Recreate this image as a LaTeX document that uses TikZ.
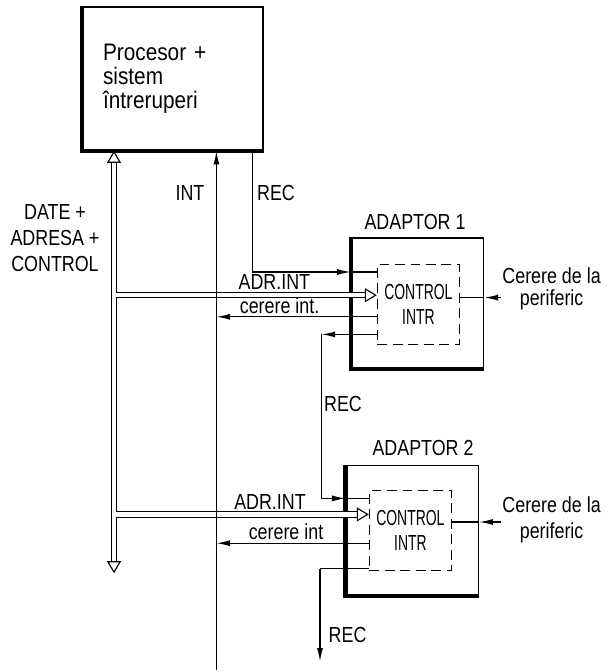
\documentclass[tikz,border=0pt]{standalone}
\usepackage{fontspec}
\setmainfont[FakeStretch=0.82]{Liberation Sans}
\newfontfamily\narrowfont[FakeStretch=0.64]{Liberation Sans}
\newfontfamily\procfont[FakeStretch=0.87]{Liberation Sans}
\usetikzlibrary{arrows.meta, calc}

\begin{document}
\begin{tikzpicture}[
    unit/.style={draw, line width=1.2pt, minimum width=3.3cm, minimum height=3.25cm},
    ctrl/.style={draw, dash pattern=on 7pt off 4pt, line width=0.8pt, minimum width=2.05cm,
                 minimum height=2.0cm, align=center, font=\narrowfont\fontsize{15.5}{18}\selectfont},
    heavy/.style={line width=3pt},
    lbl/.style={font=\fontsize{15.5}{18.5}\selectfont, inner sep=1pt, align=center},
    wire/.style={line width=0.9pt},
    arr/.style={wire, -{Latex[length=3.4mm, width=1.5mm]}},
    bus/.style={line width=0.8pt, double, double distance=3pt},
    busarr/.style={-{Triangle[open, length=3mm, width=3.5mm]}},
]
\useasboundingbox (0,0) rectangle (15.275,-16.8);

\node[draw, line width=1.2pt, minimum width=4.5cm, minimum height=3.58cm, text width=3.5cm,
      align=left, font=\procfont\fontsize{17}{17}\selectfont] (proc) at (4.325,-1.96)
      {Procesor +\\sistem\\întreruperi};
\node[unit] (ad1) at (10.44,-7.575) {};
\node[unit] (ad2) at (10.31,-13.26) {};
\node[ctrl] (ctl1) at (10.46,-7.61) {CONTROL\\INTR};
\node[ctrl] (ctl2) at (10.26,-13.26) {CONTROL\\INTR};
\draw[heavy] (proc.north west) -- (proc.south west) -- (proc.south east);
\draw[heavy] (ad1.north west) -- (ad1.south west) -- (ad1.south east);
\draw[heavy] (ad2.north west) -- (ad2.south west) -- (ad2.south east);

\node[lbl] (ad1name) at (10.375,-5.56) {ADAPTOR 1};
\node[lbl] (ad2name) at (10.575,-11.21) {ADAPTOR 2};
\node[lbl, font=\fontsize{15.5}{16}\selectfont] (per1) at (13.79,-7.225) {Cerere de la\\periferic};
\node[lbl] (per2) at (13.79,-13.0) {Cerere de la\\periferic};

% fixed points of the wires
\coordinate (busbot) at (2.85,-14.33);
\coordinate (intbot) at (5.41,-16.75);
\coordinate (rec1) at (6.31,-6.8);
\coordinate (adr1) at (0,-7.38);
\coordinate (req1) at (0,-7.92);
\coordinate (out1) at (8.04,-8.36);
\coordinate (p1) at (0,-7.44);
\coordinate (rec2) at (0,-12.46);
\coordinate (adr2) at (0,-12.86);
\coordinate (req2) at (0,-13.58);
\coordinate (p2) at (0,-13.05);
\coordinate (out2) at (8.0,-14.22);
\coordinate (recbot) at (8.0,-16.54);

% bus
\draw[bus, {Triangle[open, length=3mm, width=3.5mm]}-{Triangle[open, length=3mm, width=3.5mm]}]
    (proc.south -| busbot) -- (busbot);
\draw[bus, busarr] ($(busbot |- adr1)+(1.5pt,0)$) -- (ctl1.west |- adr1);
\draw[bus, busarr] ($(busbot |- adr2)+(1.5pt,0)$) -- (ctl2.west |- adr2);

% INT
\draw[arr] (intbot) -- (proc.south -| intbot);
\draw[arr] (ctl1.west |- req1) -- (intbot |- req1);
\draw[arr] (ctl2.west |- req2) -- (intbot |- req2);

% REC chain
\draw[arr] (proc.south -| rec1) |- (ad1.west |- rec1);
\draw[wire] (ad1.west |- rec1) -- (ctl1.west |- rec1);
\draw[arr] (ctl1.west |- out1) -- (out1);
\draw[arr] (out1) |- (ad2.west |- rec2);
\draw[wire] (ad2.west |- rec2) -- (ctl2.west |- rec2);
\draw[wire] (ctl2.west |- out2) -- (out2);
\draw[arr] (out2) -- (recbot);

% requests from the peripherals
\draw[arr] (per1.west |- p1) -- (ad1.east |- p1);
\draw[wire] (ad1.east |- p1) -- (ctl1.east |- p1);
\draw[arr] (per2.west |- p2) -- (ad2.east |- p2);
\draw[wire] (ad2.east |- p2) -- (ctl2.east |- p2);

\node[lbl] (intname) at (4.75,-4.83) {INT};
\node[lbl] (rec1name) at (6.9,-4.83) {REC};
\node[lbl] (busname) at (1.375,-5.95) {DATE +\\ADRESA +\\CONTROL};
\node[lbl] (adr1name) at (6.86,-7.06) {ADR.INT};
\node[lbl] (req1name) at (6.99,-7.65) {cerere int.};
\node[lbl] (rec2name) at (8.575,-10.11) {REC};
\node[lbl] (adr2name) at (6.75,-12.54) {ADR.INT};
\node[lbl] (req2name) at (7.15,-13.29) {cerere int};
\node[lbl] (rec3name) at (8.69,-15.875) {REC};
\end{tikzpicture}
\end{document}
